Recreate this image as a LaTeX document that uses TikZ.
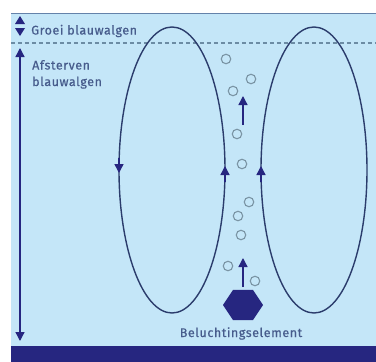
\documentclass[tikz,border=0pt]{standalone}
\usepackage{fontspec}
\setmainfont{Fira Sans}[LetterSpace=4.5, FakeBold=0.6]
\usetikzlibrary{arrows.meta,shapes.geometric}
\definecolor{water}{HTML}{C4E6F8}
\definecolor{navy}{HTML}{262680}
\definecolor{loopcol}{HTML}{2B3C6C}
\definecolor{lbl}{HTML}{475C8C}
\definecolor{dashcol}{HTML}{6C8CA4}
\definecolor{edgecol}{HTML}{6482AA}
\definecolor{bub}{HTML}{7A94A4}
\tikzset{
  loopline/.style={draw=loopcol, line width=1.4pt},
  tip/.style={-{Triangle[length=9pt,width=9pt]}, draw=navy, fill=navy, line width=1.4pt},
  bubble/.style={circle, draw=bub, line width=1.1pt, minimum size=9.5pt, inner sep=0pt},
  lab/.style={text=lbl, font=\fontsize{12.5}{16.5}\selectfont, inner sep=0pt}
}
\begin{document}
\begin{tikzpicture}[x=1pt,y=-1pt]
\useasboundingbox (0,0) rectangle (376,362);
\fill[white] (0,0) rectangle (376,362);
\fill[water] (11,13) rectangle (376,346);
\draw[edgecol, line width=1.2pt] (11,13.6) -- (376,13.6);
\fill[navy] (11,346) rectangle (376,362);
\draw[dashcol, dash pattern=on 4pt off 3pt, line width=1.2pt] (11,43) -- (376,43);
% loops
\draw[loopline] (172,170) ellipse [x radius=53, y radius=143];
\draw[loopline] (314,170) ellipse [x radius=53, y radius=143];
\draw[tip] (119,158) -- (119,173);
\draw[tip] (225,182) -- (225,166);
\draw[tip] (261,182) -- (261,166);
% left arrows
\draw[navy, line width=1.3pt, {Triangle[length=9pt,width=9pt]}-{Triangle[length=9pt,width=9pt]}] (20,48) -- (20,341);
\fill[navy] (20,16) -- (25,24) -- (15,24) -- cycle;
\fill[navy] (20,36) -- (25,28) -- (15,28) -- cycle;
\node[lab, anchor=base west] (groei) at (31,34.5) {Groei blauwalgen};
\node[lab, anchor=base west, align=left] (afst) at (32,86) {Afsterven\\blauwalgen};
% aerator
\node[regular polygon, regular polygon sides=6, shape border rotate=0, fill=navy, minimum size=40pt, inner sep=0pt, yscale=0.87] (hex) at (243,305) {};
\node[lab, anchor=base] (belu) at (241,337) {Beluchtingselement};
\coordinate (a1s) at (243,287);
\coordinate (a1e) at (243,258);
\coordinate (a2s) at (243,125);
\coordinate (a2e) at (243,96);
\draw[tip] (a1s) -- (a1e);
\draw[tip] (a2s) -- (a2e);
% bubbles
\foreach \p [count=\i] in {(226,59),(251,79),(233,91),(237,134),(242,164),(249,202),(238,216),(241,235),(228,266),(255,281)}
  \node[bubble] (b\i) at \p {};
\end{tikzpicture}
\end{document}
